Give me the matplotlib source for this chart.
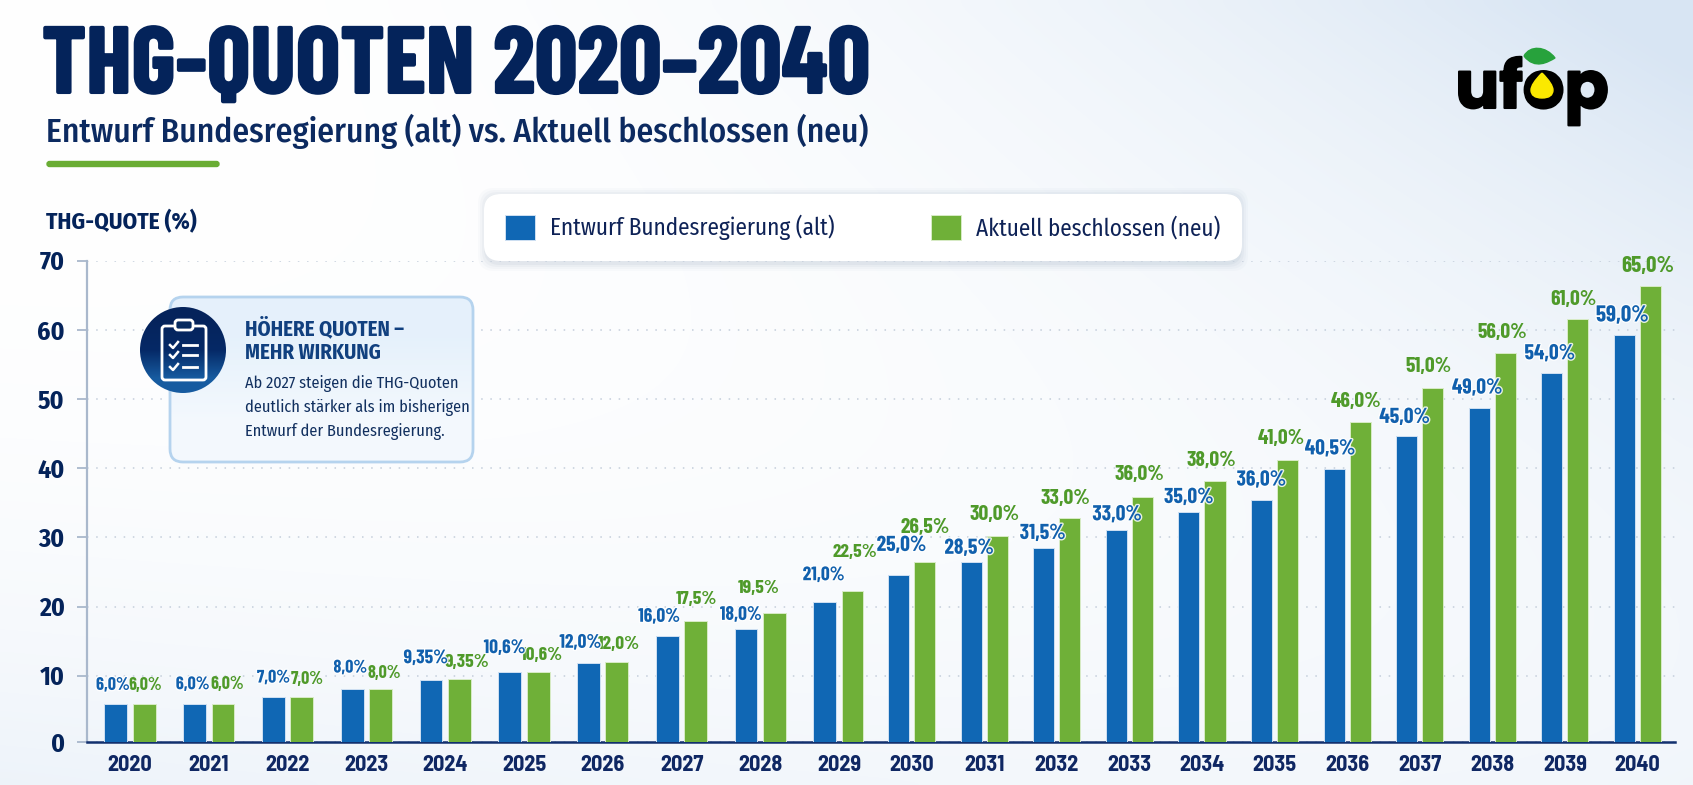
import numpy as np
import matplotlib
matplotlib.use("Agg")
import matplotlib.pyplot as plt
import matplotlib.patheffects as pe
from matplotlib import font_manager as fm
from matplotlib.patches import FancyBboxPatch, Circle, PathPatch
from matplotlib.path import Path
from matplotlib.scale import FuncScale

years = list(range(2020, 2041))
# bar heights as drawn in the picture (they do not quite follow the printed labels)
old_vals = [5.7, 5.8, 6.8, 8.0, 9.4, 10.6, 11.8, 15.7, 16.7, 20.7, 24.5, 26.4, 28.4,
            31.1, 33.6, 35.4, 39.9, 44.6, 48.7, 53.8, 59.2]
new_vals = [5.7, 5.8, 6.8, 8.0, 9.5, 10.5, 12.0, 17.9, 19.1, 22.3, 26.4, 30.2, 32.8,
            35.9, 38.1, 41.2, 46.7, 51.6, 56.6, 61.5, 66.3]
old_labels = ["6,0%", "6,0%", "7,0%", "8,0%", "9,35%", "10,6%", "12,0%", "16,0%", "18,0%",
              "21,0%", "25,0%", "28,5%", "31,5%", "33,0%", "35,0%", "36,0%", "40,5%",
              "45,0%", "49,0%", "54,0%", "59,0%"]
new_labels = ["6,0%", "6,0%", "7,0%", "8,0%", "9,35%", "10,6%", "12,0%", "17,5%", "19,5%",
              "22,5%", "26,5%", "30,0%", "33,0%", "36,0%", "38,0%", "41,0%", "46,0%",
              "51,0%", "56,0%", "61,0%", "65,0%"]
y_ticks = [0, 10, 20, 30, 40, 50, 60, 70]

# label offsets from the bar top centre, in pixels
old_dx = [-3, -2, 0, -2, -5, -5, -8, -8, -5, -1, 3, -2, -1, 1, 0, 0, -4, -2, -2, -2, -2]
old_dy = [19, 19, 19, 21, 21, 23, 20, 19, 14, 26, 30, 14, 15, 15, 15, 20, 20, 19, 20, 19, 20]
new_dx = [1, 4, 5, 4, 8, 4, 2, 1, -16, 3, 1, -3, -4, -3, -4, -6, -4, -4, -3, -5, -3]
new_dy = [19, 19, 18, 16, 17, 17, 17, 22, 24, 38, 35, 21, 20, 22, 21, 21, 20, 21, 21, 20, 20]
# the labels grow along the chart
label_pt = [13] * 4 + [14] * 6 + [15.5] * 10 + [16.5]

NAVY = "#04235a"
BLUE = "#1067b4"
GREEN = "#6fb038"


def pick(*names):
    # condensed faces if the machine has them, otherwise what is promised to be there
    have = {f.name for f in fm.fontManager.ttflist}
    return [n for n in names if n in have] + ["Roboto", "DejaVu Sans"]


BODY = pick("Fira Sans Condensed", "Roboto Condensed")
HEAD = pick("Barlow Condensed", "Roboto Condensed")
TICK = pick("Barlow Semi Condensed", "Roboto Condensed")
LOGO = pick("Poppins", "Inter")
plt.rcParams["font.family"] = BODY

W, H = 1693, 785
fig = plt.figure(figsize=(W / 100, H / 100), dpi=100)

# background wash
bg = fig.add_axes([0, 0, 1, 1], zorder=0)
bg.axis("off")
xx, yy = np.meshgrid(np.linspace(0, 1, 170), np.linspace(0, 1, 80))
wash = np.clip(0.95 * xx ** 2.2 * (1 - yy) ** 2.2 + 0.45 * yy ** 3 * (1 - xx * 0.7) + 0.22 * xx ** 3, 0, 1)
top, base = np.array([0.85, 0.90, 0.955]), np.array([1.0, 1.0, 1.0])
bg.imshow(base + (top - base)[None, None, :] * wash[:, :, None], aspect="auto",
          interpolation="bicubic", extent=(0, W, H, 0))
# soft shadow under the legend
for grow, a in ((7, 0.03), (5, 0.04), (3, 0.05), (1, 0.07)):
    bg.add_patch(FancyBboxPatch((485 - grow, 195 - grow), 756 + 2 * grow, 69 + 2 * grow,
                                boxstyle="round,pad=0,rounding_size=16", fc="#6f86a3", ec="none", alpha=a))
bg.set_xlim(0, W)
bg.set_ylim(H, 0)

# chart axes, pixel rectangle
x0, x1, y_base, y_top = 87, 1675, 742.3, 260.7
ax = fig.add_axes([x0 / W, 1 - y_base / H, (x1 - x0) / W, (y_base - y_top) / H], zorder=1)
ax.patch.set_alpha(0)

# the picture's year spacing and lower y ticks are not even, so use piecewise scales
xf = lambda v: np.interp(v, [1900, 2020, 2029, 2040, 2100], [-9326, 130, 839, 1637.5, 5993])
xi = lambda v: np.interp(v, [-9326, 130, 839, 1637.5, 5993], [1900, 2020, 2029, 2040, 2100])
yf = lambda v: np.interp(v, [-100, 0, 10, 70, 200], [-666, 0, 66.6, 481.6, 1381])
yi = lambda v: np.interp(v, [-666, 0, 66.6, 481.6, 1381], [-100, 0, 10, 70, 200])
ax.set_xscale(FuncScale(ax.xaxis, (xf, xi)))
ax.set_yscale(FuncScale(ax.yaxis, (yf, yi)))

yrs = np.array(years)
bw = 0.29
b1 = ax.bar(yrs - 0.18, old_vals, bw, color=BLUE, edgecolor="#cfe0f2", linewidth=0.7, zorder=3,
            label="Entwurf Bundesregierung (alt)")
b2 = ax.bar(yrs + 0.18, new_vals, bw, color=GREEN, edgecolor="#d8ebc6", linewidth=0.7, zorder=3,
            label="Aktuell beschlossen (neu)")

halo = [pe.withStroke(linewidth=2, foreground="white", alpha=0.85)]
for i, yr in enumerate(years):
    ax.annotate(old_labels[i], (yr - 0.18, old_vals[i]), xytext=(old_dx[i], old_dy[i]),
                textcoords="offset pixels", ha="center", va="center", fontsize=label_pt[i],
                family=HEAD, fontweight="bold", color="#1160ad", zorder=5, path_effects=halo)
    ax.annotate(new_labels[i], (yr + 0.18, new_vals[i]), xytext=(new_dx[i], new_dy[i]),
                textcoords="offset pixels", ha="center", va="center", fontsize=label_pt[i],
                family=HEAD, fontweight="bold", color="#4f9a2a", zorder=4)

ax.set_xlim(2019.454, 2040.517)
ax.set_ylim(0, 70)
ax.set_xticks(years, [str(y) for y in years], fontsize=16, fontweight="bold", color="#0f2763", family=TICK)
ax.set_yticks(y_ticks, [str(v) for v in y_ticks], fontsize=18.5, fontweight="bold", color=NAVY)
ax.minorticks_off()
ax.tick_params(axis="x", length=0, pad=20.5)
for lab in ax.get_xticklabels():
    lab.set_va("baseline")
ax.tick_params(axis="y", length=7, width=1.3, color="#a9b8cc", pad=9)
ax.grid(axis="y", color="#c4cedb", linewidth=1.1, linestyle=(0, (1, 5)), zorder=1)
ax.set_axisbelow(True)
for s in ("top", "right"):
    ax.spines[s].set_visible(False)
ax.spines["left"].set_color("#a9b8cc")
ax.spines["left"].set_linewidth(1.6)
ax.spines["bottom"].set_color("#12306e")
ax.spines["bottom"].set_linewidth(1.8)

leg = ax.legend(handles=[b1, b2], ncol=2, loc="center", bbox_to_anchor=(863 / W, 1 - 227.5 / H),
                bbox_transform=fig.transFigure, fontsize=16.7, labelcolor="#0e2256",
                handlelength=1.3, handleheight=1.3, handletextpad=0.65, columnspacing=4.15,
                borderpad=0.89, borderaxespad=0, framealpha=1, edgecolor="none", facecolor="white")
leg.get_frame().set_boxstyle("round", pad=0, rounding_size=0.7)
leg.set_zorder(6)

# everything outside the plot, in picture pixels
deco = fig.add_axes([0, 0, 1, 1], zorder=2)
deco.patch.set_alpha(0)
deco.axis("off")

thick = [pe.withStroke(linewidth=1.5, foreground=NAVY)]
deco.text(42, 93, "THG-QUOTEN 2020–2040", fontsize=68, family=HEAD, fontweight="bold", color=NAVY,
          va="baseline", path_effects=thick)
deco.text(46, 142, "Entwurf Bundesregierung (alt) vs. Aktuell beschlossen (neu)", fontsize=24.1,
          fontweight="medium", color="#0c2a60", va="baseline")
deco.add_patch(FancyBboxPatch((47, 161.5), 172, 5, boxstyle="round,pad=0,rounding_size=2.5",
                              fc="#6aad34", ec="#6aad34", lw=1))
deco.text(46, 222, "THG-QUOTE (%)", fontsize=16.8, fontweight="bold", color=NAVY, va="center")

# callout
box = FancyBboxPatch((170, 297), 303, 165, boxstyle="round,pad=0,rounding_size=13",
                     fc="none", ec="#b5d3ee", lw=2, zorder=3)
deco.add_patch(box)
fill = deco.imshow(np.array([[[0.90, 0.945, 0.985]], [[0.955, 0.975, 0.995]]]), extent=(170, 473, 462, 297),
                   aspect="auto", interpolation="bilinear", zorder=2)
fill.set_clip_path(box)

disc = Circle((183, 350), 43, fc="none", ec="none", zorder=4)
deco.add_patch(disc)
shade = deco.imshow(np.array([[[0.02, 0.14, 0.36]], [[0.02, 0.16, 0.40]], [[0.09, 0.36, 0.63]]]),
                    extent=(140, 226, 393, 307), aspect="auto", interpolation="bilinear", zorder=4)
shade.set_clip_path(disc)
deco.add_patch(FancyBboxPatch((162, 326), 44, 54, boxstyle="round,pad=0,rounding_size=3",
                              fc="none", ec="white", lw=2, zorder=5))
deco.add_patch(FancyBboxPatch((175, 320), 18, 10, boxstyle="round,pad=0,rounding_size=3",
                              fc="#062a60", ec="white", lw=2, zorder=5))
for yc in (345, 355, 367):
    deco.plot([170, 173, 178], [yc, yc + 3, yc - 3], color="white", lw=1.8, zorder=5)
    deco.plot([183, 197], [yc, yc], color="white", lw=2, zorder=5)

deco.text(245, 328, "HÖHERE QUOTEN –", fontsize=15, fontweight="bold", color="#11407f", va="center", zorder=6)
deco.text(245, 353, "MEHR WIRKUNG", fontsize=15, fontweight="bold", color="#11407f", va="center", zorder=6)
for yc, line in zip((384, 408, 432), ("Ab 2027 steigen die THG-Quoten", "deutlich stärker als im bisherigen",
                                      "Entwurf der Bundesregierung.")):
    deco.text(245, yc, line, fontsize=11.7, color="#12305f", va="center", zorder=6)

# logo
deco.text(1532, 108, "ufop", fontsize=47, family=LOGO, fontweight="bold", color="black",
          ha="center", va="baseline", zorder=7, path_effects=[pe.withStroke(linewidth=1.5, foreground="black")])
leaf = Path([(1524, 56), (1530, 45), (1546, 46), (1555, 58), (1548, 62), (1535, 70), (1524, 56)],
            [Path.MOVETO, Path.CURVE4, Path.CURVE4, Path.CURVE4, Path.CURVE4, Path.CURVE4, Path.CURVE4])
deco.add_patch(PathPatch(leaf, fc="#27a23c", ec="#27a23c", lw=1, zorder=8))
drop = Path([(1542, 73), (1531, 84), (1531, 90), (1531, 98), (1542, 98), (1553, 98), (1553, 90), (1553, 84), (1542, 73)],
            [Path.MOVETO, Path.CURVE3, Path.CURVE3, Path.CURVE3, Path.CURVE3, Path.CURVE3, Path.CURVE3, Path.CURVE3, Path.CURVE3])
deco.add_patch(PathPatch(drop, fc="#fbe900", ec="#fbe900", lw=1, zorder=8))

deco.set_xlim(0, W)
deco.set_ylim(H, 0)

fig.savefig("out.png", dpi=100)
